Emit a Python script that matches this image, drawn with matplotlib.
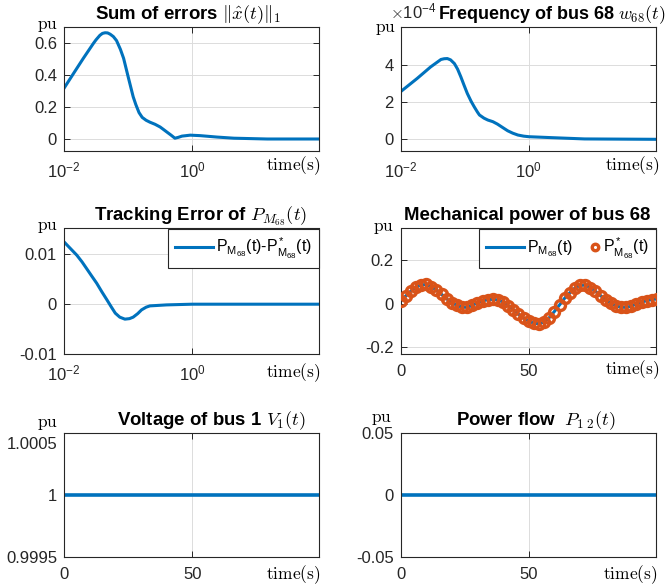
import matplotlib
matplotlib.use('Agg')
import matplotlib.pyplot as plt
from matplotlib.ticker import FuncFormatter, LogFormatterSciNotation, NullLocator
from matplotlib.legend_handler import HandlerLine2DCompound

plt.rcParams['font.family'] = ['Liberation Sans', 'DejaVu Sans']
plt.rcParams['mathtext.fontset'] = 'cm'
plt.rcParams['axes.unicode_minus'] = False

BLUE = '#0072BD'
ORANGE = '#D95319'
DARK = '#262626'

# Sum of errors ||x_hat(t)||_1  (log time axis)
err_t = [0.01, 0.0141, 0.02, 0.0288, 0.0316, 0.0363, 0.0398, 0.0437, 0.0479, 0.0525,
         0.0589, 0.066, 0.0759, 0.0851, 0.1, 0.12, 0.132, 0.148, 0.166, 0.191,
         0.219, 0.263, 0.316, 0.355, 0.398, 0.468, 0.537, 0.603, 0.692, 0.933,
         1.33, 2.45, 4.47, 14.8, 95.0]
err_sum = [0.317, 0.41, 0.504, 0.598, 0.62, 0.648, 0.66, 0.664, 0.663, 0.655,
           0.64, 0.615, 0.56, 0.504, 0.39, 0.264, 0.215, 0.165, 0.135, 0.117,
           0.105, 0.092, 0.075, 0.06, 0.045, 0.024, 0.005, 0.01, 0.018, 0.024,
           0.021, 0.012, 0.005, 0.0, 0.0]

# Frequency of bus 68, in units of 1e-4 pu
freq_t = [0.01, 0.0182, 0.0295, 0.0427, 0.0479, 0.0537, 0.0603, 0.0692, 0.0776, 0.0871,
          0.0977, 0.11, 0.126, 0.141, 0.158, 0.17, 0.2, 0.229, 0.275, 0.324,
          0.389, 0.468, 0.562, 0.676, 0.832, 1.0, 2.24, 7.41, 95.0]
freq_e4 = [2.56, 3.28, 3.9, 4.3, 4.34, 4.35, 4.28, 4.08, 3.78, 3.37,
           2.92, 2.47, 2.05, 1.75, 1.47, 1.31, 1.14, 1.04, 0.95, 0.82,
           0.64, 0.46, 0.33, 0.23, 0.17, 0.14, 0.09, 0.02, 0.0]

# Tracking error of P_M68
track_t = [0.01, 0.0158, 0.0191, 0.0224, 0.0269, 0.0324, 0.0389, 0.0468, 0.055, 0.0631,
           0.0741, 0.0891, 0.105, 0.12, 0.141, 0.162, 0.191, 0.219, 0.398, 1.0, 95.0]
track_err = [0.01252, 0.00986, 0.0085, 0.0072, 0.0057, 0.0042, 0.0025, 0.00086, -0.0006, -0.0018,
             -0.0026, -0.0030, -0.0029, -0.0026, -0.0019, -0.00114, -0.0006, -0.00034,
             -0.00014, 0.0, 0.0]

# Mechanical power of bus 68 (linear time axis, every 2 s)
pm_t = list(range(0, 101, 2))
pm68 = [0.011, 0.035, 0.057, 0.075, 0.086, 0.088, 0.078, 0.062, 0.043, 0.022,
        0.005, -0.008, -0.016, -0.017, -0.008, 0.004, 0.013, 0.018, 0.020, 0.017,
        0.007, -0.010, -0.028, -0.048, -0.066, -0.080, -0.090, -0.092, -0.085, -0.064,
        -0.036, -0.006, 0.025, 0.050, 0.072, 0.084, 0.085, 0.074, 0.057, 0.037,
        0.018, 0.002, -0.010, -0.016, -0.017, -0.011, -0.002, 0.007, 0.014, 0.019,
        0.022]
pm68_ref = pm68

# Voltage of bus 1 and power flow 1-2
flat_t = [0, 100]
volt1 = [1.0, 1.0]
pflow12 = [0.0, 0.0]

W, H = 668, 587
fig = plt.figure(figsize=(W / 100, H / 100), dpi=100)


class RightMarker(HandlerLine2DCompound):
    # put the single legend marker close to its text, like MATLAB does
    def get_xdata(self, legend, xdescent, ydescent, width, height, fontsize):
        xdata = [-xdescent, -xdescent + width]
        return xdata, [-xdescent + width - 4]


def axes_px(l, r, t, b):
    return fig.add_axes([l / W, 1 - b / H, (r - l) / W, (b - t) / H])


def ftxt(x, y, s, **kw):
    fig.text(x / W, 1 - y / H, s, **kw)


def style(ax):
    ax.grid(True, color='#dcdcdc', linewidth=0.7)
    ax.set_axisbelow(True)
    for sp in ax.spines.values():
        sp.set_color(DARK)
        sp.set_linewidth(0.8)
    ax.tick_params(direction='in', length=4, width=0.7, color=DARK, labelcolor=DARK,
                   labelsize=12, top=True, right=True)
    ax.tick_params(axis='x', pad=7)
    ax.tick_params(axis='y', pad=5)
    ax.yaxis.set_major_formatter(FuncFormatter(lambda v, p: f'{v:g}'))


def logx(ax):
    ax.set_xscale('log')
    ax.set_xlim(0.01, 95)
    ax.set_xticks([0.01, 1])
    ax.xaxis.set_major_formatter(LogFormatterSciNotation())
    ax.xaxis.set_minor_locator(NullLocator())


L1, R1, L2, R2 = 64, 319, 400.5, 655.7
rows = [(27, 151), (228.5, 354), (433.3, 557)]

ax1 = axes_px(L1, R1, *rows[0])
ax2 = axes_px(L2, R2, *rows[0])
ax3 = axes_px(L1, R1, *rows[1])
ax4 = axes_px(L2, R2, *rows[1])
ax5 = axes_px(L1, R1, *rows[2])
ax6 = axes_px(L2, R2, *rows[2])

title_kw = dict(fontsize=13.4, fontweight='bold', color='black')
leg_kw = dict(loc='upper right', borderaxespad=0, fancybox=False, framealpha=1,
              edgecolor=DARK, fontsize=11.5, handlelength=2.4, handletextpad=0.15,
              borderpad=0.45)

# panel 1
ax1.plot(err_t, err_sum, color=BLUE, lw=2.2)
logx(ax1)
ax1.set_ylim(-0.075, 0.7)
ax1.set_yticks([0, 0.2, 0.4, 0.6])
style(ax1)
ax1.set_title(r'Sum of errors $\|\hat{x}(t)\|_1$', x=0.486, **title_kw)

# panel 2
ax2.plot(freq_t, freq_e4, color=BLUE, lw=2.2)
logx(ax2)
ax2.set_ylim(-0.63, 6.05)
ax2.set_yticks([0, 2, 4])
style(ax2)
ax2.set_title(r'Frequency of bus 68 $w_{68}(t)$', x=0.592,
              fontsize=13, fontweight='bold', color='black')
ftxt(390, 18, r'$\times\mathdefault{10^{-4}}$', fontsize=12, color=DARK, ha='left', va='baseline')

# panel 3
ax3.plot(track_t, track_err, color=BLUE, lw=2.2,
         label=r'$\mathregular{P_{M_{68}}(t)}$-$\mathregular{P^*_{M_{68}}(t)}$')
logx(ax3)
ax3.set_ylim(-0.01, 0.0152)
ax3.set_yticks([-0.01, 0, 0.01])
style(ax3)
ax3.set_title(r'Tracking Error of $P_{M_{68}}(t)$', x=0.536, **title_kw)
lg = ax3.legend(**leg_kw)
lg.get_frame().set_linewidth(0.8)

# panel 4
ax4.plot(pm_t, pm68, color=BLUE, lw=2.2, label=r'$\mathregular{P_{M_{68}}(t)}$', zorder=2)
mk, = ax4.plot(pm_t, pm68_ref, ls='none', marker='o', ms=7.2, mew=2.4, mfc='none', mec=ORANGE,
               label=r'$\mathregular{P^*_{M_{68}}(t)}$', zorder=3)
ax4.set_xlim(0, 99.5)
ax4.set_xticks([0, 50])
ax4.set_ylim(-0.231, 0.345)
ax4.set_yticks([-0.2, 0, 0.2])
style(ax4)
ax4.set_title('Mechanical power of bus 68', x=0.496, **title_kw)
lg = ax4.legend(ncol=2, columnspacing=-0.68, markerscale=0.65,
                handler_map={mk: RightMarker(numpoints=2)}, **leg_kw)
lg.get_frame().set_linewidth(0.8)

# panel 5
ax5.plot(flat_t, volt1, color=BLUE, lw=2.6)
ax5.set_xlim(0, 99.5)
ax5.set_xticks([0, 50])
ax5.set_ylim(0.9995, 1.0005)
ax5.set_yticks([0.9995, 1.0, 1.0005])
style(ax5)
ax5.yaxis.set_major_formatter(plt.FixedFormatter(['0.9995', '1', '']))
ax5.text(-0.027, 0.913, '1.0005', transform=ax5.transAxes, ha='right', va='center',
         fontsize=12, color=DARK)
ax5.set_title(r'Voltage of bus 1 $V_1(t)$', x=0.579, **title_kw)

# panel 6
ax6.plot(flat_t, pflow12, color=BLUE, lw=2.6)
ax6.set_xlim(0, 99.5)
ax6.set_xticks([0, 50])
ax6.set_ylim(-0.05, 0.05)
ax6.set_yticks([-0.05, 0, 0.05])
style(ax6)
ax6.set_title(r'Power flow  $P_{1\ 2}(t)$', x=0.531, **title_kw)

# "pu" and "time(s)" labels
pu_pos = [(58, 29), (395.7, 32), (58, 230), (394, 231), (58, 427), (392, 422)]
for x, y in pu_pos:
    ftxt(x, y, r'$\mathrm{pu}$', fontsize=12.5, ha='right', va='baseline')
time_pos = [(320, 170), (659, 170), (320, 377), (659, 374), (320, 579), (657, 579)]
for x, y in time_pos:
    ftxt(x, y, r'$\mathrm{time(s)}$', fontsize=12.5, ha='right', va='baseline')

fig.savefig('out.png', dpi=100)
